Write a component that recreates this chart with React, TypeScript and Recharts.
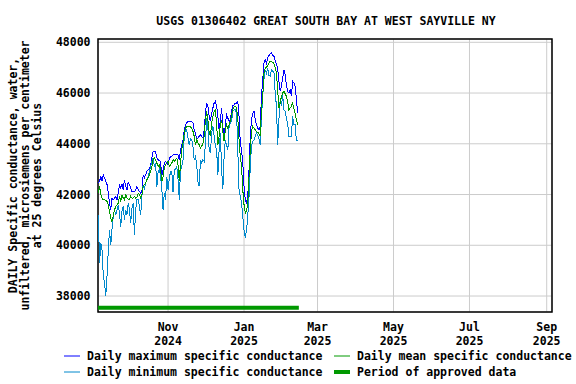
import { CartesianGrid, Line, LineChart, ReferenceArea, XAxis, YAxis } from "recharts";

const FONT = '"DejaVu Sans Mono", monospace';
const DAY = 86400000;

// first daily value: 2024-09-06
const firstDay = Date.UTC(2024, 8, 6);

const dailyMax = [
  42451, 42520, 42714, 42520, 42780, 42650, 42520, 42390, 42056, 41662,
  41399, 41860, 41794, 41860, 41925, 41794, 42056, 42390, 42250, 42425,
  42188, 42582, 42320, 42188, 42480, 42390, 42250, 42120, 42120, 42120,
  42160, 42320, 42215, 42120, 42056, 42120, 42780, 42650, 42780, 42910,
  42977, 43000, 43175, 43437, 43700, 43700, 43700, 43437, 43372, 43345,
  43306, 42714, 42977, 43240, 43306, 43240, 43175, 43437, 43480, 43503,
  43555, 43568, 43568, 43568, 43568, 43372, 43766, 43963, 44160, 44555,
  44750, 44818, 44884, 44884, 44884, 44884, 44818, 44555, 44424, 44160,
  44226, 44292, 44358, 44292, 44226, 44555, 45212, 45607, 45476, 45081,
  44884, 45212, 45410, 45607, 45673, 45476, 45081, 44555, 44950, 45410,
  44687, 44160, 44818, 45146, 45015, 44884, 44950, 45278, 45500, 45540,
  45607, 45607, 45673, 45081, 44029, 43766, 43240, 42320, 41794, 41662,
  41925, 42977, 44292, 44950, 45212, 45278, 44950, 44750, 44620, 44555,
  44687, 45870, 46528, 47185, 47317, 47185, 47383, 47475, 47555, 47580,
  47475, 47448, 47290, 47120, 46990, 46460, 46070, 46265, 46595, 46922,
  46725, 46330, 46070, 46002, 46135, 45870, 46460, 46400, 46265, 45805,
  45212,
];

const dailyMean = [
  42056, 42320, 41990, 41860, 41794, 41794, 41770, 41730, 41600, 41334,
  41070, 40939, 41136, 41399, 41530, 41596, 41662, 41925, 41728, 41990,
  41860, 41794, 41990, 41860, 41820, 41794, 41925, 41860, 41860, 41925,
  41860, 41900, 42056, 41990, 41860, 41990, 42320, 42385, 42451, 42582,
  42650, 42780, 42910, 43108, 43372, 43437, 43345, 43240, 43108, 43175,
  42977, 42517, 42714, 43043, 43175, 43240, 43306, 43108, 43175, 43240,
  43372, 43306, 43372, 43437, 43175, 42517, 43240, 43766, 44029, 44424,
  44620, 44687, 44687, 44687, 44660, 44620, 44490, 44292, 43963, 44160,
  44029, 43963, 43832, 43898, 44029, 44292, 44950, 45278, 44950, 44424,
  44292, 44818, 45081, 45278, 45344, 44750, 43963, 44292, 44750, 44950,
  44490, 44095, 44555, 44750, 44620, 44750, 44884, 45146, 45370, 45450,
  45476, 45410, 45015, 44160, 43503, 43108, 42188, 41596, 41268, 41334,
  41662, 42714, 43766, 44490, 44687, 44620, 44555, 44490, 44450, 44400,
  44292, 45344, 45870, 46790, 46990, 47030, 47080, 47185, 47250, 47250,
  47210, 47160, 46990, 46790, 46133, 45410, 45607, 45870, 46002, 46070,
  45975, 45870, 45673, 45344, 45410, 45476, 45607, 45410, 45212, 44950,
  44750,
];

const dailyMin = [
  41200, 39300, 40100, 39800, 38800, 38500, 38000, 38800, 39800, 40600,
  40000, 40650, 41136, 41400, 41200, 41400, 41600, 41268, 40740, 41330,
  41530, 41000, 41400, 41200, 41660, 41400, 40870, 41460, 41660, 40400,
  41400, 41800, 41790, 41530, 41200, 41925, 42385, 42188, 42450, 42600,
  42710, 42900, 43100, 43300, 43440, 43100, 43240, 42300, 42900, 43000,
  42700, 42200, 41400, 42050, 41800, 42700, 42180, 42650, 42900, 42900,
  42100, 42977, 43000, 43100, 42600, 41800, 42977, 43100, 43370, 44290,
  44550, 44550, 44230, 43960, 44200, 44160, 43900, 43370, 43500, 43170,
  42500, 42320, 43370, 43240, 43370, 43300, 44030, 45000, 44600, 43770,
  43630, 44420, 44690, 44290, 43900, 43760, 42780, 43770, 44420, 43000,
  42200, 43500, 44160, 43900, 43770, 44690, 44800, 44900, 45280, 45340,
  45340, 45210, 43770, 42190, 41930, 41660, 41140, 40600, 40280, 40600,
  41140, 41925, 43100, 43900, 44100, 44160, 44300, 44420, 44350, 44200,
  43960, 45080, 45870, 46530, 46920, 46790, 46990, 46700, 46660, 46920,
  46860, 46860, 46000, 45500, 43960, 44950, 45740, 45476, 45940, 45340,
  45280, 45000, 44820, 44290, 44290, 44290, 45080, 44750, 44750, 44160,
  44100,
];

const approvedStart = Date.UTC(2024, 8, 5, 12);
const approvedEnd = Date.UTC(2025, 1, 14);
const approvedLevel = 37540;

const xTicks = [
  Date.UTC(2024, 10, 1),
  Date.UTC(2025, 0, 1),
  Date.UTC(2025, 2, 1),
  Date.UTC(2025, 4, 1),
  Date.UTC(2025, 6, 1),
  Date.UTC(2025, 8, 1),
];
const tickMonths = ["Nov", "Jan", "Mar", "May", "Jul", "Sep"];
const tickYears = ["2024", "2025", "2025", "2025", "2025", "2025"];
const yTicks = [38000, 40000, 42000, 44000, 46000, 48000];

const xDomain = [Date.UTC(2024, 8, 5, 18), Date.UTC(2025, 8, 5, 6)];
const yDomain = [37370, 48130];

const rows = dailyMax.map((v, i) => ({
  t: firstDay + i * DAY,
  max: v,
  mean: dailyMean[i],
  min: dailyMin[i],
}));

const approvedRows = [
  { t: approvedStart, v: approvedLevel },
  { t: approvedEnd, v: approvedLevel },
];

const textStyle = { fontFamily: FONT, fontSize: 11.5, fontWeight: 700, fill: "#000" };

function XTick(props: any) {
  const { x, y, payload } = props;
  const k = xTicks.indexOf(payload.value);
  return (
    <g>
      <text x={x} y={y + 19} textAnchor="middle" style={textStyle}>
        {tickMonths[k]}
      </text>
      <text x={x} y={y + 32.5} textAnchor="middle" style={textStyle}>
        {tickYears[k]}
      </text>
    </g>
  );
}

function YTick(props: any) {
  const { x, y, payload } = props;
  return (
    <text x={x - 7.5} y={y + 4} textAnchor="end" style={textStyle}>
      {payload.value}
    </text>
  );
}

const legendItems = [
  { label: "Daily maximum specific conductance", color: "#0000ff", w: 1, x: 64, y: 356 },
  { label: "Daily mean specific conductance", color: "#009900", w: 1, x: 334, y: 356 },
  { label: "Daily minimum specific conductance", color: "#0088cc", w: 1, x: 64, y: 372 },
  { label: "Period of approved data", color: "#009900", w: 4, x: 334, y: 372 },
];

const yLabelLines = [
  "DAILY Specific conductance, water,",
  "unfiltered, microsiemens per centimeter",
  "at 25 degrees Celsius",
];

export default function App() {
  return (
    <div style={{ position: "absolute", left: 0, top: 0, width: 576, height: 384, background: "#fff" }}>
      <LineChart
        width={576}
        height={384}
        data={rows}
        margin={{ top: 39, right: 24, bottom: 0, left: 0 }}
      >
        <CartesianGrid stroke="#cccccc" strokeWidth={1} />
        <XAxis
          dataKey="t"
          type="number"
          domain={xDomain}
          ticks={xTicks}
          interval={0}
          height={72}
          tickSize={0}
          tickMargin={0}
          axisLine={false}
          tickLine={false}
          tick={<XTick />}
          allowDataOverflow
        />
        <YAxis
          type="number"
          domain={yDomain}
          ticks={yTicks}
          interval={0}
          width={98}
          tickSize={0}
          tickMargin={0}
          axisLine={false}
          tickLine={false}
          tick={<YTick />}
          allowDataOverflow
        />
        <Line
          dataKey="max"
          stroke="#0000ff"
          strokeWidth={1}
          dot={false}
          isAnimationActive={false}
          shapeRendering="crispEdges"
        />
        <Line
          dataKey="min"
          stroke="#0088cc"
          strokeWidth={1}
          dot={false}
          isAnimationActive={false}
          shapeRendering="crispEdges"
        />
        <Line
          dataKey="mean"
          stroke="#009900"
          strokeWidth={1}
          dot={false}
          isAnimationActive={false}
          shapeRendering="crispEdges"
        />
        <Line
          data={approvedRows}
          dataKey="v"
          stroke="#009900"
          strokeWidth={4}
          dot={false}
          isAnimationActive={false}
        />
        <ReferenceArea
          x1={xDomain[0]}
          x2={xDomain[1]}
          y1={yDomain[0]}
          y2={yDomain[1]}
          fill="none"
          stroke="#000"
          strokeWidth={1.5}
          ifOverflow="visible"
        />
      </LineChart>
      <svg
        width={576}
        height={384}
        style={{ position: "absolute", left: 0, top: 0, pointerEvents: "none" }}
      >
        <text x={326} y={24.5} textAnchor="middle" style={textStyle}>
          USGS 01306402 GREAT SOUTH BAY AT WEST SAYVILLE NY
        </text>
        {yLabelLines.map((line, i) => (
          <text
            key={line}
            transform={`translate(${16.5 + i * 12}, 175.5) rotate(-90)`}
            textAnchor="middle"
            style={textStyle}
          >
            {line}
          </text>
        ))}
        {legendItems.map((item) => (
          <g key={item.label}>
            <line
              x1={item.x}
              x2={item.x + 16}
              y1={item.y}
              y2={item.y}
              stroke={item.color}
              strokeWidth={item.w}
            />
            <text x={item.x + 23} y={item.y + 4} style={textStyle}>
              {item.label}
            </text>
          </g>
        ))}
      </svg>
    </div>
  );
}
